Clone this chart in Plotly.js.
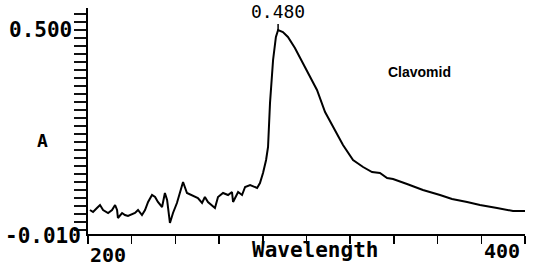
<!DOCTYPE html>
<html>
<head>
<meta charset="utf-8">
<script src="https://cdn.plot.ly/plotly-3.0.1.min.js"></script>
<style>html,body{margin:0;padding:0;background:#fff;}#chart{width:534px;height:267px;}</style>
</head>
<body>
<div id="chart"></div>
<script>
// Data
const wavelength = [200.9,202.3,204.1,205.5,206.9,209.2,211.0,212.4,213.3,213.7,215.6,216.9,218.3,220.1,221.5,222.9,224.7,226.1,227.5,229.3,230.7,232.0,233.9,235.2,236.2,237.5,238.9,240.7,242.1,243.5,245.3,248.1,250.3,252.2,253.5,254.9,258.1,259.5,261.8,264.1,265.9,266.4,268.7,270.5,271.9,274.2,277.4,278.7,280.1,281.5,282.4,283.3,284.7,286.0,287.0,289.2,291.5,294.7,299.3,304.8,308.5,313.1,316.7,321.3,325.9,330.0,333.6,336.9,339.6,346.0,353.3,361.1,366.6,373.5,379.4,387.2,394.5,400.0];
const absorbance = [0.050,0.045,0.055,0.0625,0.050,0.0425,0.050,0.0625,0.050,0.030,0.0425,0.0375,0.035,0.040,0.0425,0.050,0.0375,0.050,0.070,0.0875,0.0825,0.070,0.0575,0.0925,0.075,0.0175,0.0425,0.0675,0.0925,0.120,0.0925,0.085,0.080,0.0675,0.0825,0.070,0.055,0.0825,0.0925,0.0875,0.095,0.070,0.095,0.0875,0.1075,0.1125,0.105,0.1175,0.1425,0.175,0.2075,0.3175,0.425,0.4825,0.500,0.495,0.4825,0.455,0.4075,0.350,0.295,0.250,0.2125,0.175,0.1575,0.145,0.1425,0.130,0.1275,0.115,0.100,0.0875,0.0775,0.070,0.0625,0.055,0.0475,0.0475];
const yLabelVals = [0.5, -0.01];
const yLabelText = ["0.500", "-0.010"];
const xTickLabels = ["200", "400"];
const peakLabel = "0.480";
const sampleName = "Clavomid";

let peakIdx = 0;
absorbance.forEach((v, i) => { if (v > absorbance[peakIdx]) peakIdx = i; });

const mono = "DejaVu Sans Mono, monospace";
const yRange = [-0.01, 0.555];
const traces = [
  {x: wavelength, y: absorbance, type: "scatter", mode: "lines",
   line: {color: "#000", width: 2}, hoverinfo: "skip"}
];
const layout = {
  width: 534, height: 267,
  margin: {l: 88, r: 9, t: 8, b: 33},
  paper_bgcolor: "#fff", plot_bgcolor: "#fff",
  showlegend: false,
  xaxis: {
    range: [200, 400], showgrid: false, zeroline: false,
    showline: true, linecolor: "#000", linewidth: 2,
    ticks: "outside", tickmode: "linear", tick0: 200, dtick: 20,
    ticklen: 8, tickwidth: 1.5, tickcolor: "#000",
    showticklabels: false
  },
  yaxis: {
    range: yRange, showgrid: false, zeroline: false,
    showline: true, linecolor: "#000", linewidth: 2,
    tickmode: "linear", tick0: 0.5, dtick: 0.02,
    ticks: "outside", ticklen: 12, tickwidth: 2, tickcolor: "#111",
    showticklabels: false
  },
  annotations: [
    {x: 0, y: yLabelVals[0], xref: "paper", yref: "y", xanchor: "right", yanchor: "middle", xshift: -14, text: yLabelText[0], showarrow: false,
     font: {family: mono, size: 21, color: "#000", weight: "bold"}},
    {x: 0, y: yLabelVals[1], xref: "paper", yref: "y", xanchor: "right", yanchor: "middle", xshift: -5, yshift: -2, text: yLabelText[1], showarrow: false,
     font: {family: mono, size: 21, color: "#000", weight: "bold"}},
    {x: 200, y: -0.03, xref: "x", yref: "paper", xanchor: "left", yanchor: "top", text: xTickLabels[0], showarrow: false,
     font: {family: mono, size: 20, color: "#000", weight: "bold"}},
    {x: 400, y: 0.0, xref: "x", yref: "paper", xanchor: "right", yanchor: "top", xshift: -3, yshift: -3, text: xTickLabels[1], showarrow: false,
     font: {family: mono, size: 20, color: "#000", weight: "bold"}},
    {x: 304, y: -0.071, xref: "x", yref: "paper", xanchor: "center", yanchor: "middle", text: "Wavelength", showarrow: false,
     font: {family: mono, size: 21, color: "#000", weight: "bold"}},
    {x: -0.103, y: 0.225, xref: "paper", yref: "y", xanchor: "center", yanchor: "middle", text: "A", showarrow: false,
     font: {family: mono, size: 18, color: "#000", weight: "bold"}},
    {x: wavelength[peakIdx], y: absorbance[peakIdx], xref: "x", yref: "y", text: peakLabel,
     showarrow: true, arrowhead: 0, arrowwidth: 1.5, arrowcolor: "#000", ax: 0, ay: -6, standoff: 0,
     yanchor: "bottom", font: {family: mono, size: 18, color: "#000"}},
    {x: 0.759, y: 0.717, xref: "paper", yref: "paper", xanchor: "center", yanchor: "middle", text: sampleName, showarrow: false,
     font: {family: "Liberation Sans, Arial, sans-serif", size: 14, color: "#000", weight: "bold"}}
  ]
};
Plotly.newPlot("chart", traces, layout, {staticPlot: true, displayModeBar: false});
</script>
</body>
</html>
